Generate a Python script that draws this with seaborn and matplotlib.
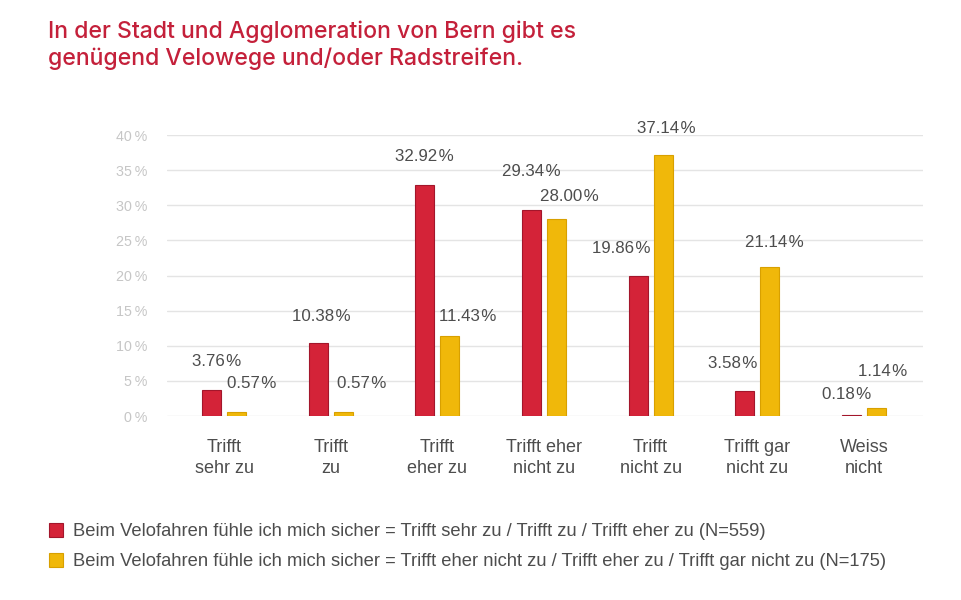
import pandas as pd
import matplotlib.pyplot as plt
import seaborn as sns

# Daten aus der Grafik
kategorien = ["Trifft\nsehr zu", "Trifft\nzu", "Trifft\neher zu", "Trifft eher\nnicht zu",
              "Trifft\nnicht zu", "Trifft gar\nnicht zu", "Weiss\nnicht"]
gruppe_sicher = [3.76, 10.38, 32.92, 29.34, 19.86, 3.58, 0.18]
gruppe_unsicher = [0.57, 0.57, 11.43, 28.00, 37.14, 21.14, 1.14]
gruppen = [
    "Beim Velofahren fühle ich mich sicher = Trifft sehr zu / Trifft zu / Trifft eher zu (N=559)",
    "Beim Velofahren fühle ich mich sicher = Trifft eher nicht zu / Trifft eher zu / Trifft gar nicht zu (N=175)",
]
y_ticks = [0, 5, 10, 15, 20, 25, 30, 35, 40]

# Verschiebung der Beschriftungen (Pixel), damit sie sich nicht überlappen
versatz_sicher = [(5, 28), (3, 27), (0, 28), (0, 38), (-17, 28), (-12, 27), (-5, 20)]
versatz_unsicher = [(15, 28), (18, 28), (18, 19), (13, 23), (3, 27), (5, 25), (6, 36)]

farben = ["#d42338", "#f0b80a"]
rand_farben = ["#a3162b", "#d8a000"]
titel_farbe = "#c4203a"
text_farbe = "#4d4d4d"

df = pd.DataFrame({
    "Kategorie": kategorien * 2,
    "Anteil": gruppe_sicher + gruppe_unsicher,
    "Gruppe": [gruppen[0]] * len(kategorien) + [gruppen[1]] * len(kategorien),
})

sns.set_theme(style="white")
plt.rcParams["font.family"] = ["Liberation Sans", "DejaVu Sans"]

fig = plt.figure(figsize=(9.61, 6), dpi=100)
ax = fig.add_axes([167 / 961, 1 - 416 / 600, (923 - 167) / 961, (416 - 135) / 600])

sns.barplot(data=df, x="Kategorie", y="Anteil", hue="Gruppe", palette=farben,
            width=0.47, gap=0.24, ax=ax, saturation=1, legend=True, linewidth=0.8)

# Werte über den Balken
for container, versatz, rand in zip(ax.containers, [versatz_sicher, versatz_unsicher], rand_farben):
    for bar, (dx, dy) in zip(container, versatz):
        bar.set_edgecolor(rand)
        h = bar.get_height()
        ax.annotate(f"{h:.2f}\u200a%", (bar.get_x() + bar.get_width() / 2, h),
                    xytext=(dx, dy), textcoords="offset pixels",
                    ha="center", va="center", fontsize=12.2, color=text_farbe)

ax.set_ylim(0, 40)
ax.set_xlim(-0.535, 6.555)
ax.set_yticks(y_ticks)
ax.set_yticklabels([f"{v}\u2009%" for v in y_ticks], color="#c6c6c6", fontsize=10.3)
ax.tick_params(axis="y", length=0, pad=14)
ax.tick_params(axis="x", length=0, pad=16.5, labelsize=13, labelcolor=text_farbe)
for lbl in ax.get_xticklabels():
    lbl.set_linespacing(1.3)
ax.yaxis.grid(True, color="#e4e4e4", linewidth=1)
ax.set_axisbelow(True)
sns.despine(ax=ax, left=True, bottom=True)
ax.set_xlabel("")
ax.set_ylabel("")

# Legende unten
handles, labels = ax.get_legend_handles_labels()
ax.get_legend().remove()
for hd, rand in zip(handles, rand_farben):
    hd.set_edgecolor(rand)
fig.legend(handles, labels, loc="upper left", bbox_to_anchor=(49 / 961, 1 - 523 / 600),
           frameon=False, fontsize=13.2, labelcolor=text_farbe, handlelength=0.76,
           handleheight=0.76, handletextpad=0.55, labelspacing=0.71,
           borderpad=0, borderaxespad=0)

# Titel in zwei Zeilen
fig.text(48 / 961, 1 - 38 / 600, "In der Stadt und Agglomeration von Bern gibt es",
         ha="left", va="baseline", fontsize=16.6, color=titel_farbe, family="Inter",
         fontweight="medium")
fig.text(48 / 961, 1 - 65 / 600, "genügend Velowege und/oder Radstreifen.",
         ha="left", va="baseline", fontsize=16.6, color=titel_farbe, family="Inter",
         fontweight="medium")

fig.savefig("out.png", dpi=100)
